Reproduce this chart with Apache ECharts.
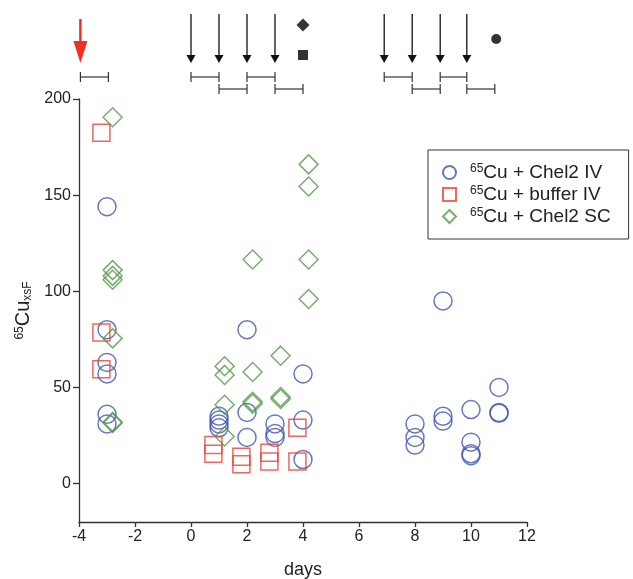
<!DOCTYPE html>
<html>
<head>
  <meta charset="utf-8">
  <script src="https://cdn.jsdelivr.net/npm/echarts@6/dist/echarts.min.js"></script>
  <style>
    html, body { margin: 0; padding: 0; width: 100%; height: 100%; background: #fff; }
    #main { width: 633px; height: 579px; }
  </style>
</head>
<body>
  <div id="main"></div>
  <script>
    // measured values, [day, 65Cu xsF]
    var chel2IV = [
      [-3, 144], [-3, 80], [-3, 63], [-3, 57], [-3, 36], [-3, 31],
      [1, 35], [1, 33], [1, 31], [1, 29],
      [2, 80], [2, 37], [2, 24],
      [3, 31], [3, 26], [3, 24],
      [4, 57], [4, 33], [4, 12.5],
      [8, 31], [8, 24], [8, 20],
      [9, 95], [9, 35], [9, 32.5],
      [10, 38.5], [10, 21.5], [10, 15.5], [10, 14.5],
      [11, 50], [11, 37], [11, 36.5]
    ];
    var bufferIV = [
      [-3.2, 182.5], [-3.2, 78.5], [-3.2, 59.5],
      [0.8, 20], [0.8, 15.5],
      [1.8, 14], [1.8, 10],
      [2.8, 16], [2.8, 11.5],
      [3.8, 29], [3.8, 11.5]
    ];
    var chel2SC = [
      [-2.8, 190.5], [-2.8, 111], [-2.8, 108], [-2.8, 106], [-2.8, 75.5], [-2.8, 32], [-2.8, 31.5],
      [1.2, 61], [1.2, 56.5], [1.2, 41], [1.2, 24.5],
      [2.2, 116.5], [2.2, 58], [2.2, 42.5], [2.2, 41.5],
      [3.2, 66.5], [3.2, 45], [3.2, 44],
      [4.2, 166], [4.2, 154.5], [4.2, 116.5], [4.2, 96]
    ];
    var yTicks = [0, 50, 100, 150, 200];

    // dosing schedule drawn above the plot
    var redArrowDays = [-3.95];
    var doseDays = [0, 1, 2, 3, 6.9, 7.9, 8.9, 9.85];
    var bracketsUpper = [[-3.95, -2.95], [0, 1], [2, 3], [6.9, 7.9], [8.9, 9.85]];
    var bracketsLower = [[1, 2], [3, 4], [7.9, 8.9], [9.85, 10.85]];
    var diamondDay = [4];
    var squareDay = [4];
    var dotDay = [10.9];

    var font = "'Liberation Sans', Arial, Helvetica, sans-serif";
    var ink = '#222';

    var myChart = echarts.init(document.getElementById('main'));

    function arrowItem(color, topY, headY, halfW) {
      return function (params, api) {
        var x = api.value(0);
        var p0 = api.coord([x, topY]);
        var p1 = api.coord([x, headY]);
        var p2 = api.coord([x, 63]);
        return {
          type: 'group',
          children: [
            { type: 'line', shape: { x1: p0[0], y1: p0[1], x2: p1[0], y2: p1[1] + 1 },
              style: { stroke: color, lineWidth: color === '#111' ? 1.3 : 2.5 } },
            { type: 'polygon', shape: { points: [[p1[0] - halfW, p1[1]], [p1[0] + halfW, p1[1]], [p2[0], p2[1]]] },
              style: { fill: color } }
          ]
        };
      };
    }

    function bracketItem(level) {
      return function (params, api) {
        var a = api.coord([api.value(0), level]);
        var b = api.coord([api.value(1), level]);
        var st = { stroke: '#333', lineWidth: 1.2 };
        return {
          type: 'group',
          children: [
            { type: 'line', shape: { x1: a[0], y1: a[1], x2: b[0], y2: b[1] }, style: st },
            { type: 'line', shape: { x1: a[0], y1: a[1] - 5, x2: a[0], y2: a[1] + 5 }, style: st },
            { type: 'line', shape: { x1: b[0], y1: b[1] - 5, x2: b[0], y2: b[1] + 5 }, style: st }
          ]
        };
      };
    }

    var hollow = 'rgba(0,0,0,0)';

    option = {
      animation: false,
      textStyle: { fontFamily: font },
      grid: [
        { left: 79, right: 106, top: 99, bottom: 57, outerBoundsMode: 'none' },
        { left: 79, right: 106, top: 0, height: 99, outerBoundsMode: 'none' }
      ],
      legend: {
        data: ['Cu + Chel2 IV', 'Cu + buffer IV', 'Cu + Chel2 SC'],
        orient: 'vertical',
        left: 428,
        top: 150,
        padding: [13, 18, 13, 14],
        itemGap: 3,
        itemWidth: 13,
        itemHeight: 13,
        borderColor: '#333',
        borderWidth: 1,
        formatter: function (name) {
          return '{s|65}{t|' + name + '}';
        },
        textStyle: {
          rich: {
            s: { fontSize: 12, fontFamily: font, color: ink, verticalAlign: 'top', padding: [0, 0, 7, 9] },
            t: { fontSize: 19, fontFamily: font, color: ink }
          }
        }
      },
      xAxis: [
        {
          type: 'value', min: -4, max: 12, interval: 2,
          name: 'days', nameLocation: 'middle', nameGap: 39,
          nameTextStyle: { fontSize: 18, color: ink, fontFamily: font },
          splitLine: { show: false },
          axisLine: { onZero: false, lineStyle: { color: '#333', width: 1.3 } },
          axisTick: { length: 5, lineStyle: { color: '#333', width: 1.3 } },
          axisLabel: { fontSize: 16, color: ink, margin: 7, fontFamily: font }
        },
        { type: 'value', gridIndex: 1, min: -4, max: 12, show: false }
      ],
      yAxis: [
        {
          type: 'value', min: -20, max: 200,
          name: '{s|65}{m|Cu}{b|xsF}', nameLocation: 'middle', nameGap: 44, nameRotate: 90,
          nameTextStyle: {
            rich: {
              s: { fontSize: 12, fontFamily: font, color: ink, verticalAlign: 'top', padding: [0, 0, 8, 0] },
              m: { fontSize: 20, fontFamily: font, color: ink },
              b: { fontSize: 12, fontFamily: font, color: ink, verticalAlign: 'bottom', padding: [8, 0, 0, 0] }
            }
          },
          splitLine: { show: false },
          axisLine: { onZero: false, lineStyle: { color: '#333', width: 1.3 } },
          axisTick: { length: 6, customValues: yTicks, lineStyle: { color: '#333', width: 1.3 } },
          axisLabel: { fontSize: 16, color: ink, margin: 8, fontFamily: font, customValues: yTicks }
        },
        { type: 'value', gridIndex: 1, min: 0, max: 99, inverse: true, show: false }
      ],
      series: [
        {
          name: 'Cu + Chel2 IV', type: 'scatter', symbol: 'circle', symbolSize: 18,
          data: chel2IV,
          itemStyle: { color: hollow, borderColor: '#3f56b0', borderWidth: 1.5 }
        },
        {
          name: 'Cu + buffer IV', type: 'scatter', symbol: 'rect', symbolSize: 17,
          data: bufferIV,
          itemStyle: { color: hollow, borderColor: '#ee4035', borderWidth: 1.5 }
        },
        {
          name: 'Cu + Chel2 SC', type: 'scatter', symbol: 'diamond', symbolSize: 19,
          data: chel2SC,
          itemStyle: { color: hollow, borderColor: '#55984a', borderWidth: 1.5 }
        },
        {
          type: 'custom', xAxisIndex: 1, yAxisIndex: 1, clip: false, silent: true,
          data: redArrowDays.map(function (d) { return [d]; }),
          renderItem: arrowItem('#ee3124', 19, 41, 7)
        },
        {
          type: 'custom', xAxisIndex: 1, yAxisIndex: 1, clip: false, silent: true,
          data: doseDays.map(function (d) { return [d]; }),
          renderItem: arrowItem('#111', 14, 55, 4.5)
        },
        {
          type: 'custom', xAxisIndex: 1, yAxisIndex: 1, clip: false, silent: true,
          data: bracketsUpper, renderItem: bracketItem(77)
        },
        {
          type: 'custom', xAxisIndex: 1, yAxisIndex: 1, clip: false, silent: true,
          data: bracketsLower, renderItem: bracketItem(89)
        },
        {
          type: 'scatter', xAxisIndex: 1, yAxisIndex: 1, symbol: 'diamond', symbolSize: 13, silent: true,
          data: diamondDay.map(function (d) { return [d, 25]; }), itemStyle: { color: '#000' }
        },
        {
          type: 'scatter', xAxisIndex: 1, yAxisIndex: 1, symbol: 'rect', symbolSize: 10, silent: true,
          data: squareDay.map(function (d) { return [d, 55]; }), itemStyle: { color: '#000' }
        },
        {
          type: 'scatter', xAxisIndex: 1, yAxisIndex: 1, symbol: 'circle', symbolSize: 10, silent: true,
          data: dotDay.map(function (d) { return [d, 39]; }), itemStyle: { color: '#000' }
        }
      ]
    };

    myChart.setOption(option);
  </script>
</body>
</html>
